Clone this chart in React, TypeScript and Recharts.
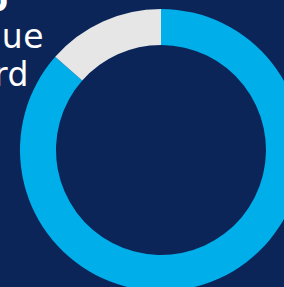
import React from 'react';
import { PieChart, Pie, Cell } from 'recharts';

const segments = ['Share', 'Remainder'];
const shareValues = [86.5, 13.5];
const segmentColors = ['#00aeea', '#e6e6e6'];
const headingLines = ['Top', 'Unique', 'Board'];

const data = segments.map((name, i) => ({ name, value: shareValues[i] }));

const NAVY = '#0c2559';
const FONT = "'DejaVu Sans', sans-serif";

const App: React.FC = () => {
  return (
    <div
      style={{
        position: 'absolute',
        left: 0,
        top: 0,
        width: 284,
        height: 287,
        overflow: 'hidden',
        background: NAVY,
      }}
    >
      <svg width={284} height={287} style={{ position: 'absolute', left: 0, top: 0 }}>
        <text x={8} y={11} textAnchor="end" fill="#ffffff" fontFamily={FONT} fontWeight={700} fontSize={33}>
          {headingLines[0]}
        </text>
        <text x={44} y={48} textAnchor="end" fill="#ffffff" fontFamily={FONT} fontSize={33} letterSpacing={0.5}>
          {headingLines[1]}
        </text>
        <text x={29} y={86} textAnchor="end" fill="#ffffff" fontFamily={FONT} fontSize={33} letterSpacing={0.5}>
          {headingLines[2]}
        </text>
      </svg>
      <div style={{ position: 'absolute', left: 0, top: 0 }}>
        <PieChart width={284} height={287} margin={{ top: 0, right: 0, bottom: 0, left: 0 }}>
          <Pie
            data={data}
            dataKey="value"
            nameKey="name"
            cx={161}
            cy={150}
            innerRadius={105}
            outerRadius={141}
            startAngle={90}
            endAngle={-270}
            stroke="none"
            isAnimationActive={false}
          >
            {data.map((d, i) => (
              <Cell key={d.name} fill={segmentColors[i]} />
            ))}
          </Pie>
        </PieChart>
      </div>
    </div>
  );
};

export default App;
